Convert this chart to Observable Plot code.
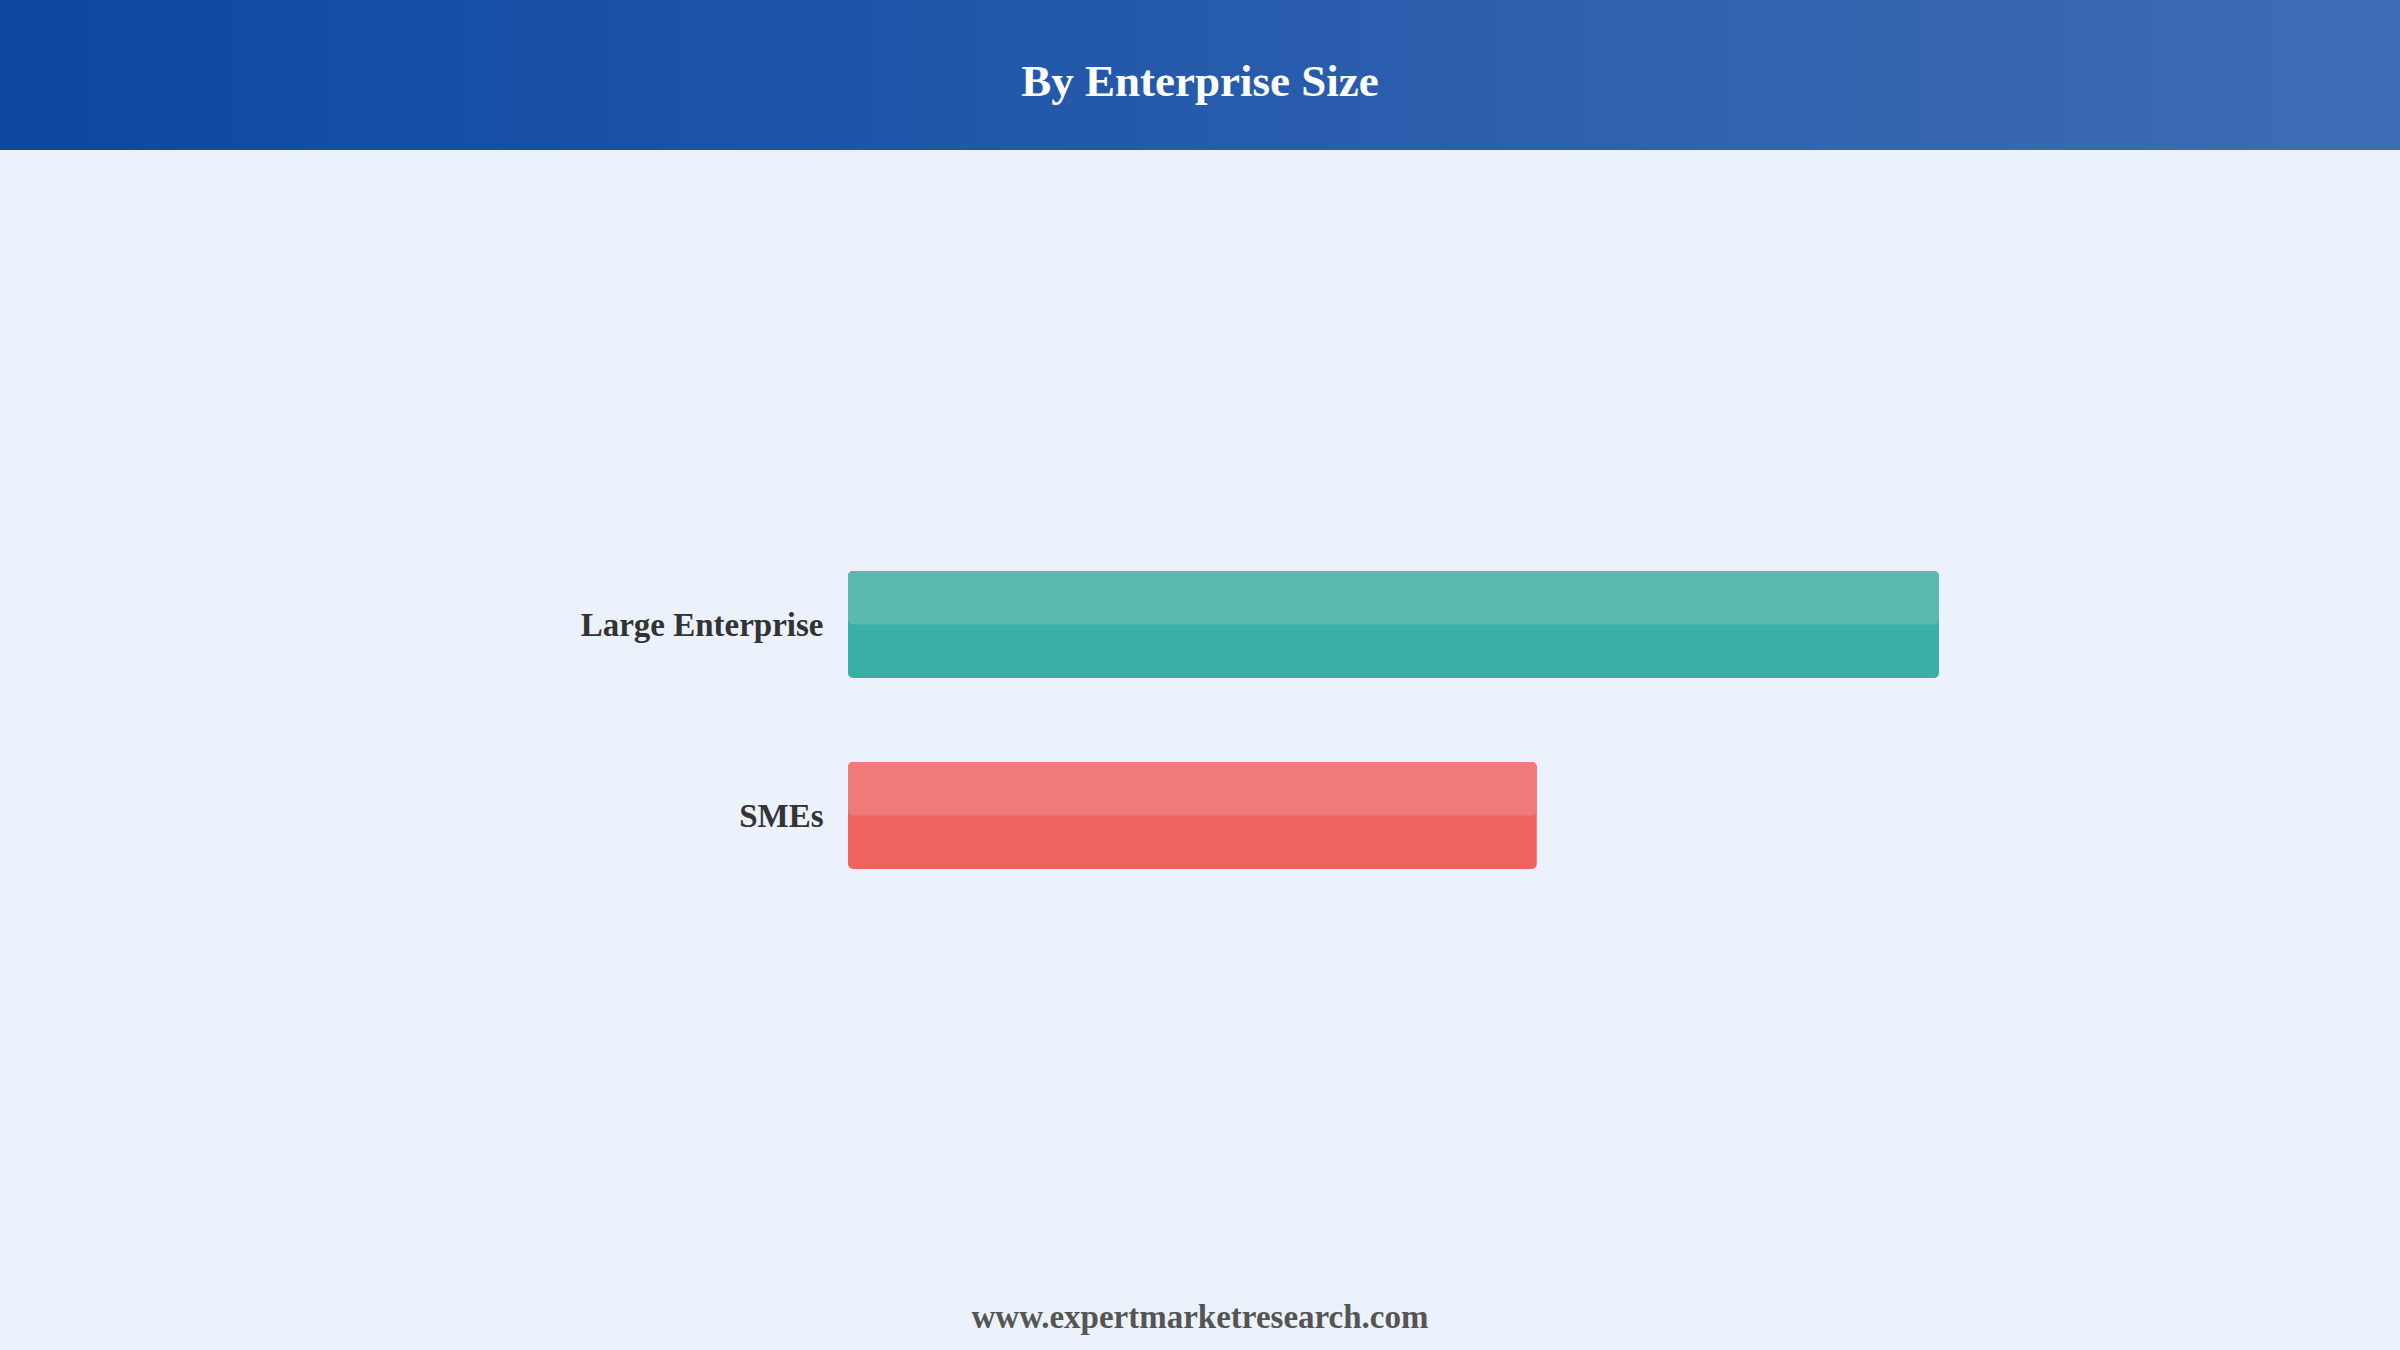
<!DOCTYPE html>
<html>
<head>
<meta charset="utf-8">
<script src="https://cdn.jsdelivr.net/npm/d3@7"></script>
<script src="https://cdn.jsdelivr.net/npm/@observablehq/plot@0.6"></script>
<style>
  html, body { margin: 0; padding: 0; }
  body { width: 2400px; height: 1350px; background: #EBF2FC; position: relative; overflow: hidden;
         font-family: "Liberation Serif", "Times New Roman", serif; }
  #header { height: 150px; width: 2400px; background: linear-gradient(to right, #0D47A1, #3F6DB5);
            display: flex; align-items: center; justify-content: center; box-sizing: border-box; padding-top: 12px; }
  #header h1 { margin: 0; color: #fff; font-size: 45px; font-weight: bold; line-height: 1; }
  #chart { position: absolute; left: 0; top: 150px; }
  #footer { position: absolute; left: 0; width: 2400px; top: 1299px; text-align: center;
            color: #555; font-size: 33px; font-weight: bold; }
</style>
</head>
<body>
<div id="header"><h1>By Enterprise Size</h1></div>
<div id="chart"></div>
<div id="footer">www.expertmarketresearch.com</div>
<script>
const categories = ["Large Enterprise", "SMEs"];
const values = [61.3, 38.7];
const colors = ["#3AAFA5", "#EF6461"];
const highlights = ["#5AB9B1", "#F07A78"];

const data = categories.map((c, i) => ({category: c, value: values[i], color: colors[i], light: highlights[i]}));
const maxV = d3.max(values);
const chartHeight = 1140;

const plot = Plot.plot({
  width: 2400,
  height: chartHeight,
  marginLeft: 848,
  marginRight: 461,
  marginTop: 336,
  marginBottom: 336,
  style: {background: "transparent", fontFamily: "'Liberation Serif', 'Times New Roman', serif", overflow: "visible"},
  x: {domain: [0, maxV], axis: null},
  y: {domain: categories, padding: 0.441, label: null},
  marks: [
    Plot.barX(data, {x: "value", y: "category", fill: "color", rx: 5}),
    Plot.barX(data, {x: "value", y: "category", fill: "light", rx: 5, insetBottom: 53.5}),
    Plot.axisY({tickSize: 0, tickPadding: 25, fontSize: 33, fontWeight: "bold", fill: "#333", label: null})
  ]
});
document.getElementById("chart").appendChild(plot);
</script>
</body>
</html>
